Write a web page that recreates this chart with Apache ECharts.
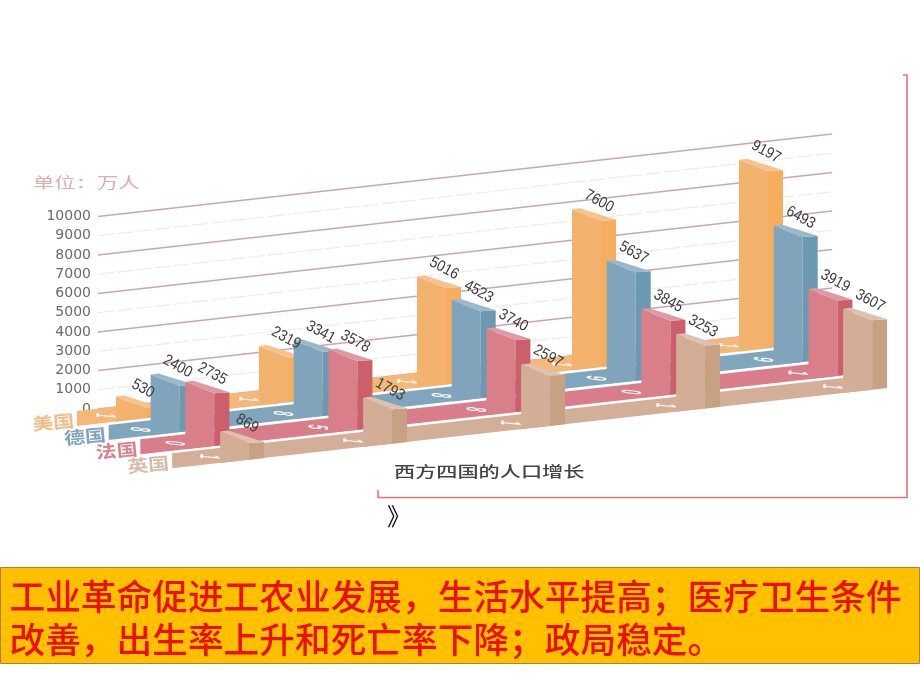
<!DOCTYPE html>
<html><head><meta charset="utf-8">
<style>html,body{margin:0;padding:0;background:#fff}#c{width:920px;height:690px}</style>
<script src="https://cdn.jsdelivr.net/npm/echarts@6/dist/echarts.min.js"></script>
</head><body><div id="c"></div>
<script>
const countries = ['美国','德国','法国','英国'];
const years = ['1801','1851','1881','1901','1911'];
const usValues = [530,2319,5016,7600,9197];
const deValues = [2400,3341,4523,5637,6493];
const frValues = [2735,3578,3740,3845,3919];
const ukValues = [869,1793,2597,3253,3607];
const seriesValues = [usValues,deValues,frValues,ukValues];
const valueTicks = [0,1000,2000,3000,4000,5000,6000,7000,8000,9000,10000];
const unitText = '单位：万人';
const captionText = '西方四国的人口增长';
const noteLines = ['工业革命促进工农业发展，生活水平提高；医疗卫生条件','改善，出生率上升和死亡率下降；政局稳定。'];

// layout (oblique projection)
const groupPos = [0,143,301,456,623];
const SLOPE = 0.1124, X0 = 98, ROW_DX = 34.7, ROW_DY = 17.7, WALL = 14.6;
const FACE = 29, SIDE = 15, STRIP = 15;
const palette = [
 {face:'#f3b26e',side:'#f6ae5e',top:'#f7c28c',strip:'#f5b878',label:'#f2bd85'},
 {face:'#7fa4bb',side:'#6b99b1',top:'#9ab8c9',strip:'#80a6bd',label:'#7fa4bb'},
 {face:'#d97f89',side:'#cc5f6c',top:'#dd9aa3',strip:'#d87d89',label:'#d8828c'},
 {face:'#d3ad95',side:'#c8a184',top:'#dec2b0',strip:'#d4af98',label:'#d9bba8'}
];
const shear = (px, py, row, dx) => {
  const X = px + row*ROW_DX + (dx||0);
  return [X, py + WALL + row*ROW_DY - SLOPE*(X-X0)];
};
const ground = (X, row, y0) => y0 + WALL + row*ROW_DY - SLOPE*(X-X0);

const barRows = [];
seriesValues.forEach((vals,r)=>vals.forEach((v,g)=>barRows.push([groupPos[g],v,r,g])));

function renderWall(params, api){
  const v = api.value(0);
  const y = api.coord([0,v])[1];
  const odd = (v/1000)%2===1;
  const endX = 832;
  return {type:'line', silent:true,
    shape:{x1:X0,y1:y,x2:endX,y2:y-SLOPE*(endX-X0)},
    style:{stroke: odd?'#eeeaea':'#cba6b2', lineWidth: odd?1.2:1.3, lineDash: odd?[16,3]:null}};
}
function renderStrip(params, api){
  const r = api.value(0);
  const y0 = api.coord([0,0])[1];
  const front = api.coord([groupPos[groupPos.length-1],0])[0] + r*ROW_DX;
  const start = 77 + r*31.7;
  const b1 = ground(start,r,y0), b2 = ground(front,r,y0);
  const kids = [{type:'polygon',shape:{points:[[start,b1],[front,b2],[front,b2-STRIP],[start,b1-STRIP]]},
    style:{fill:palette[r].strip}}];
  // year digits lying on the floor strip
  groupPos.forEach((g,i)=>{
    const bx = api.coord([g,0])[0] + r*ROW_DX - FACE - 12;
    kids.push({type:'text',x:bx,y:ground(bx,r,y0)-7.5,rotation:-Math.PI/2-0.11,scaleX:0.6,scaleY:2.2,
      style:{text:years[i][r],fill:'#f4f4f4',font:'bold 13px "Liberation Sans"',align:'center',verticalAlign:'middle'}});
  });
  return {type:'group',children:kids};
}
function renderBar(params, api){
  const r = api.value(2);
  const p = api.coord([api.value(0),api.value(1)]);
  const y0 = api.coord([0,0])[1];
  const F = shear(p[0],p[1],r);              // front top corner
  const fx = F[0], fy = F[1];
  const L = [fx-FACE, fy-11.5], R=[fx+SIDE, fy-1], B=[fx-FACE+8, fy-12.5];
  const c = palette[r];
  return {type:'group',children:[
    {type:'polygon',shape:{points:[L,[fx,fy],[fx,ground(fx,r,y0)],[fx-FACE,ground(fx-FACE,r,y0)]]},style:{fill:c.face}},
    {type:'polygon',shape:{points:[[fx,fy],R,[fx+SIDE,ground(fx+SIDE,r,y0)],[fx,ground(fx,r,y0)]]},style:{fill:c.side}},
    {type:'polygon',shape:{points:[L,B,R,[fx,fy]]},style:{fill:c.top}}
  ]};
}
function renderValue(params, api){
  const r = api.value(2);
  const p = api.coord([api.value(0),api.value(1)]);
  const F = shear(p[0],p[1],r);
  return {type:'text',x:F[0]-2,y:F[1]-19.5,rotation:-0.5,scaleX:0.92,scaleY:1.05,
    style:{text:String(api.value(1)),fill:'#3c3c3c',font:'15px "Liberation Sans"',align:'center',verticalAlign:'middle'}};
}
function renderRowName(params, api){
  const r = api.value(0);
  const y0 = api.coord([0,0])[1];
  const right = 74 + r*31.7;
  return {type:'text',x:right,y:ground(right,r,y0)-6,rotation:0.09,scaleX:1.1,scaleY:0.9,
    style:{text:countries[r],fill:palette[r].label,font:'bold 19px "Noto Sans CJK SC"',align:'right',verticalAlign:'middle'}};
}

const rowIdx = countries.map((_,i)=>[i]);
const grf = [
 {type:'rect',z:-1,shape:{x:0.5,y:567.5,width:919,height:96},style:{fill:'#ffc000',stroke:'#a8823a',lineWidth:1}},
 {type:'polyline',shape:{points:[[378,490],[378,497.5],[907,497.5],[907,75],[903,75]]},style:{fill:'none',stroke:'#e4747a',lineWidth:1.6}},
 {type:'text',x:33,y:182,scaleX:1.42,style:{text:unitText,fill:'#dcaeb0',font:'15px "Noto Sans CJK SC"',verticalAlign:'middle'}},
 {type:'text',x:394,y:471,scaleX:1.41,style:{text:captionText,fill:'#444',font:'500 15px "Noto Sans CJK SC"',verticalAlign:'middle'}},
 {type:'text',x:387,y:516,style:{text:'》',fill:'#111',font:'24px "Noto Sans CJK SC"',verticalAlign:'middle'}},
 {type:'text',x:9.5,y:596,style:{text:noteLines[0],fill:'#ec1000',font:'500 35.7px "Noto Sans CJK SC"',verticalAlign:'middle'}},
 {type:'text',x:9.5,y:639,style:{text:noteLines[1],fill:'#ec1000',font:'500 35.7px "Noto Sans CJK SC"',verticalAlign:'middle'}}
];
const chart = echarts.init(document.getElementById('c'),null,{renderer:'canvas'});
const common = {coordinateSystem:'cartesian2d',clip:false,silent:true,animation:false};
chart.setOption({
  animation:false,
  backgroundColor:'#fff',
  graphic:grf,
  grid:{left:145,top:216.5,width:623,height:192.5,containLabel:false},
  xAxis:{type:'value',min:0,max:623,show:false},
  yAxis:{type:'value',min:0,max:10000,interval:1000,axisLine:{show:false},axisTick:{show:false},splitLine:{show:false},
    axisLabel:{margin:54,color:'#6a6a6a',fontFamily:'DejaVu Sans',fontSize:14,formatter:v=>String(v)}},
  series:[
   Object.assign({type:'custom',z:1,data:valueTicks.map(v=>[v]),encode:{x:-1,y:0},renderItem:renderWall},common),
   Object.assign({type:'custom',z:2,data:rowIdx,encode:{x:-1,y:-1},renderItem:(p,a)=>{
      const r=a.value(0);
      const bars=barRows.filter(d=>d[2]===r);
      const kids=[renderStrip(p,a)];
      bars.forEach(d=>kids.push(renderBar(p,{value:i=>d[i],coord:a.coord})));
      return {type:'group',children:kids};
   }},common),
   Object.assign({type:'custom',z:3,data:barRows,encode:{x:0,y:1},renderItem:renderValue},common),
   Object.assign({type:'custom',z:3,data:rowIdx,encode:{x:-1,y:-1},renderItem:renderRowName},common)
  ]
});
</script></body></html>
